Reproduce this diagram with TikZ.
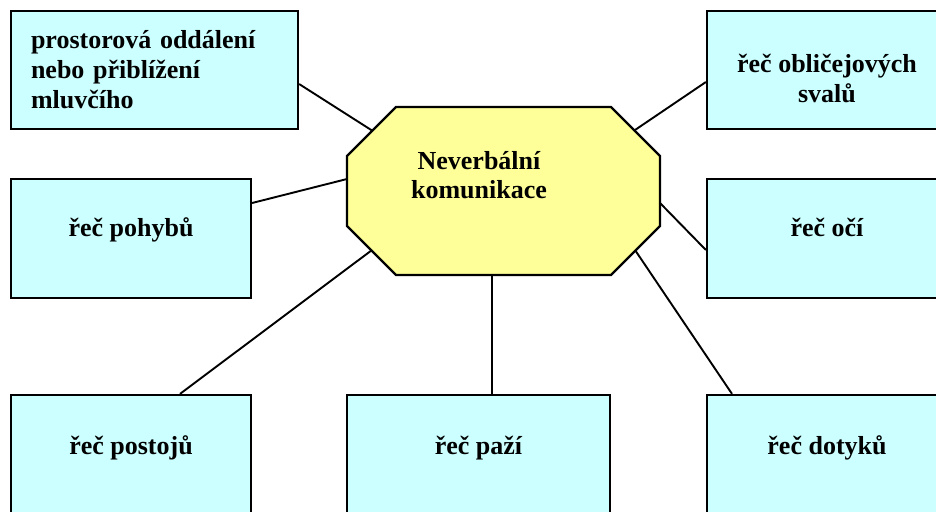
\documentclass[tikz,border=0pt]{standalone}
\usepackage{fontspec}
\setmainfont{Liberation Serif}
\definecolor{boxcyan}{HTML}{CCFFFF}
\definecolor{hubyellow}{HTML}{FFFF99}
\begin{document}
\begin{tikzpicture}[x=1pt,y=-1pt,
      box/.style={
        draw=black,
        fill=boxcyan,
        line width=2.2pt,
        font=\bfseries\fontsize{26}{30}\selectfont,
        minimum width=240pt,
        minimum height=119pt,
        align=center
      },
      oneline/.style={text height=18pt, text depth=23pt},
      hubarea/.style={
        rectangle,
        inner sep=0pt,
        outer sep=0pt,
        minimum width=313pt,
        minimum height=168pt
      },
      hub/.style={draw=black, fill=hubyellow, line width=2.2pt, line join=miter},
      link/.style={line width=1.9pt}
    ]
      \useasboundingbox (0,0) rectangle (936,511);
      \clip (0,0) rectangle (936,511);

      % centre (octagon drawn on the corners of kom)
      \node[hubarea] (kom) at (503.5,191) {};
      \draw[hub] ([xshift=49pt]kom.north west) -- ([xshift=-49pt]kom.north east)
        -- ([yshift=-49pt]kom.north east) -- ([yshift=49pt]kom.south east)
        -- ([xshift=-49pt]kom.south east) -- ([xshift=49pt]kom.south west)
        -- ([yshift=49pt]kom.south west) -- ([yshift=-49pt]kom.north west) -- cycle;
      \node[font=\bfseries\fontsize{26}{29}\selectfont, align=center] (komtext) at (479,175) {Neverbální\\komunikace};

      % outer boxes
      \node[box, minimum width=287pt, minimum height=118pt, inner xsep=20pt,
            text width=247pt, align=left] (prost) at (154.5,70)
            {prostorová oddálení\\nebo přiblížení\\mluvčího};
      \node[box, minimum height=118pt] (obl) at (827,70) {\rule{0pt}{36pt}řeč obličejových\\svalů};
      \node[box, oneline] (pohyb) at (131,238.5) {řeč pohybů};
      \node[box, oneline] (oci) at (827,238.5) {řeč očí};
      \node[box, oneline, minimum height=124pt] (postoj) at (131,457) {řeč postojů};
      \node[box, oneline, minimum height=124pt, minimum width=263pt] (paz) at (478.5,457) {řeč paží};
      \node[box, oneline, minimum height=124pt] (dotyk) at (827,457) {řeč dotyků};

      % connectors
      \draw[link] ([yshift=-14pt]prost.east) -- ([shift={(-131.5,-60.5)}]kom.center);
      \draw[link] ([yshift=35.5pt]pohyb.east) -- ([yshift=12pt]kom.west);
      \draw[link] ([xshift=49pt]postoj.north) -- ([shift={(-131.5,59)}]kom.center);
      \draw[link] ([xshift=-11.5pt]kom.south) -- ([xshift=-11.5pt]kom.south |- paz.north);
      \draw[link] ([xshift=-95pt]dotyk.north) -- ([shift={(131.5,59)}]kom.center);
      \draw[link] ([yshift=-11.5pt]oci.west) -- ([yshift=-12pt]kom.east);
      \draw[link] ([yshift=-12pt]obl.west) -- ([shift={(131.5,-61)}]kom.center);
    \end{tikzpicture}
\end{document}
